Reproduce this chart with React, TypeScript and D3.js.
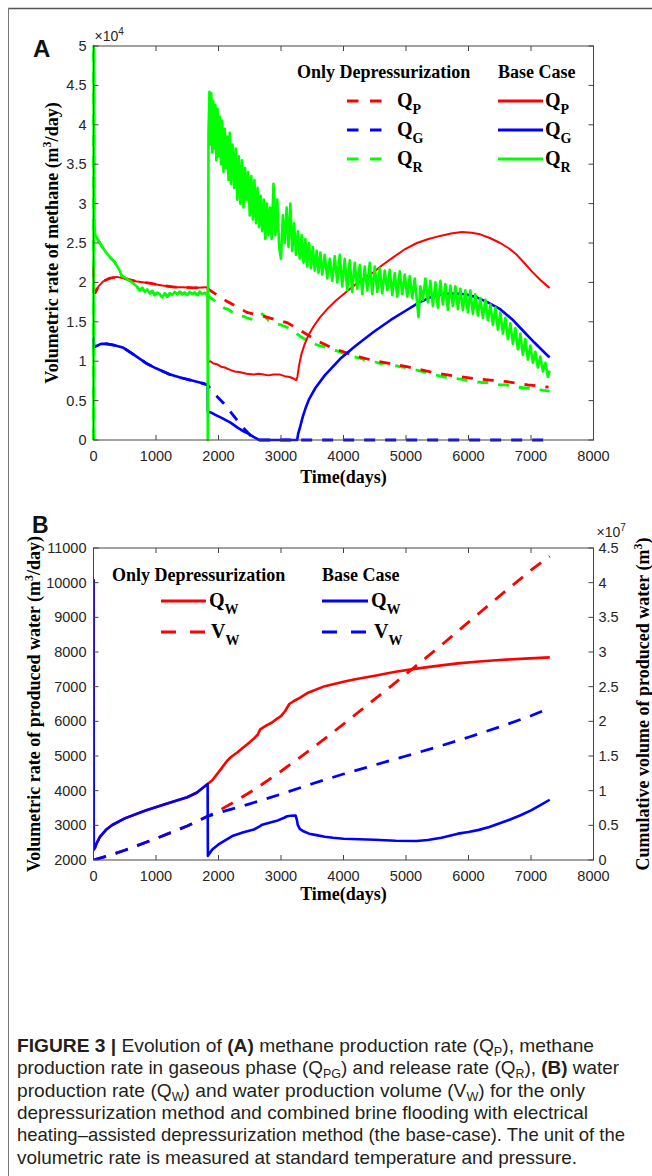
import React from "react";
import * as d3 from "d3";

type Pt = [number, number];

// ---------- shared ticks ----------
const xTicks = [0, 1000, 2000, 3000, 4000, 5000, 6000, 7000, 8000];
const yTicksA = [0, 0.5, 1, 1.5, 2, 2.5, 3, 3.5, 4, 4.5, 5];
const yTicksB = [2000, 3000, 4000, 5000, 6000, 7000, 8000, 9000, 10000, 11000];
const yTicksBRight = [0, 0.5, 1, 1.5, 2, 2.5, 3, 3.5, 4, 4.5];

// ---------- Panel A: methane rates (x10^4 m3/day) ----------
// first five years are common to both cases
const earlyQP: Pt[] = [
  [0, 2.2], [8, 1.88], [30, 1.87], [80, 1.95], [150, 2.01], [250, 2.05], [370, 2.07], [550, 2.04],
  [700, 2.01], [900, 1.99], [1100, 1.96], [1300, 1.94], [1430, 1.94], [1600, 1.93], [1800, 1.94], [1826, 1.93],
];
const baseQPTail: Pt[] = [
  [1830, 0.99], [1870, 1.0], [1920, 0.97], [1980, 0.96], [2040, 0.93], [2100, 0.92], [2187, 0.89],
  [2260, 0.87], [2350, 0.86], [2450, 0.84], [2560, 0.83], [2640, 0.84], [2720, 0.83], [2800, 0.82],
  [2880, 0.83], [2987, 0.83], [3060, 0.81], [3140, 0.8], [3200, 0.78], [3245, 0.76], [3262, 0.8],
  [3290, 0.95], [3330, 1.1], [3380, 1.22], [3440, 1.33], [3520, 1.44], [3627, 1.56], [3750, 1.67],
  [3880, 1.77], [4000, 1.85], [4120, 1.93], [4240, 2.0], [4360, 2.07], [4480, 2.13], [4640, 2.23],
  [4800, 2.32], [4980, 2.42], [5174, 2.5], [5360, 2.55], [5547, 2.59], [5720, 2.62], [5894, 2.64],
  [6050, 2.63], [6187, 2.61], [6350, 2.56], [6507, 2.5], [6650, 2.43], [6773, 2.35], [6900, 2.24],
  [7013, 2.14], [7150, 2.03], [7280, 1.94], [7300, 1.93],
];
const onlyQPTail: Pt[] = [
  [1850, 1.91], [1900, 1.88], [2000, 1.83], [2133, 1.76], [2300, 1.69], [2453, 1.62], [2600, 1.59],
  [2773, 1.56], [2900, 1.53], [3093, 1.49], [3250, 1.42], [3413, 1.34], [3600, 1.25], [3840, 1.16],
  [4000, 1.12], [4213, 1.06], [4480, 1.01], [4750, 0.97], [5013, 0.93], [5300, 0.88], [5547, 0.84],
  [5800, 0.81], [6080, 0.78], [6350, 0.76], [6613, 0.74], [6950, 0.7], [7280, 0.67],
];

const earlyQG: Pt[] = [
  [0, 1.3], [8, 1.18], [40, 1.19], [120, 1.22], [213, 1.22], [350, 1.2], [480, 1.17], [650, 1.08],
  [853, 0.97], [1000, 0.91], [1227, 0.83], [1400, 0.79], [1547, 0.76], [1700, 0.73], [1826, 0.7],
];
const baseQGTail: Pt[] = [
  [1830, 0.36], [1877, 0.35], [1950, 0.32], [2050, 0.28], [2192, 0.22], [2300, 0.16], [2400, 0.11],
  [2478, 0.08], [2560, 0.04], [2650, 0.0], [3258, 0.0], [3275, 0.08], [3307, 0.17], [3350, 0.3],
  [3400, 0.42], [3450, 0.52], [3550, 0.66], [3700, 0.82], [3947, 1.03], [4200, 1.2], [4480, 1.37],
  [4750, 1.52], [5013, 1.65], [5200, 1.74], [5387, 1.81], [5560, 1.85], [5760, 1.86], [5950, 1.85],
  [6133, 1.81], [6300, 1.75], [6507, 1.66], [6700, 1.53], [6880, 1.38], [7050, 1.24], [7280, 1.06],
  [7300, 1.05],
];
const onlyQGTail: Pt[] = [
  [1850, 0.67], [1900, 0.62], [1980, 0.55], [2077, 0.47], [2160, 0.39], [2249, 0.3], [2350, 0.2],
  [2449, 0.11], [2520, 0.05], [2580, 0.0], [7300, 0.0],
];

const earlyQR: Pt[] = [
  [0, 0], [3, 5], [12, 2.72], [30, 2.6], [100, 2.5], [200, 2.38], [344, 2.25], [420, 2.15], [450, 2.08],
  [520, 2.05], [600, 2.01], [690, 1.95], [740, 1.9], [780, 1.93], [820, 1.88], [860, 1.91], [900, 1.86],
  [940, 1.89], [980, 1.84], [1020, 1.87], [1060, 1.85], [1100, 1.81], [1140, 1.86], [1180, 1.82],
  [1220, 1.86], [1260, 1.84], [1300, 1.88], [1340, 1.85], [1380, 1.88], [1420, 1.85], [1460, 1.87],
  [1500, 1.84], [1540, 1.88], [1580, 1.85], [1620, 1.87], [1660, 1.84], [1700, 1.88], [1740, 1.85],
  [1780, 1.87], [1810, 1.84], [1826, 1.86],
];
const baseQRTail: Pt[] = [
  [1828, 0], [1840, 3.9], [1855, 4.42], [1870, 3.75], [1885, 4.4], [1900, 3.65], [1915, 4.3],
  [1930, 3.7], [1950, 4.25], [1965, 3.55], [1985, 4.2], [2000, 3.6], [2020, 4.1], [2040, 3.5],
  [2060, 4.05], [2080, 3.4], [2100, 3.95], [2120, 3.45], [2140, 3.85], [2160, 3.3], [2180, 3.9],
  [2200, 3.25], [2225, 3.75], [2250, 3.2], [2275, 3.7], [2300, 3.05], [2325, 3.6], [2350, 3.0],
  [2375, 3.55], [2400, 2.95], [2425, 3.45], [2450, 3.05], [2475, 3.4], [2500, 2.85], [2525, 3.35],
  [2550, 2.8], [2575, 3.3], [2600, 2.75], [2625, 3.2], [2650, 2.7], [2675, 3.1], [2700, 2.65],
  [2725, 3.05], [2750, 2.55], [2775, 3.0], [2800, 2.6], [2825, 2.95], [2850, 2.55], [2880, 3.25],
  [2910, 2.6], [2940, 3.05], [2970, 2.45], [3000, 2.3], [3030, 2.85], [3060, 2.5], [3090, 2.95],
  [3120, 2.45], [3150, 3.0], [3180, 2.4], [3210, 2.75], [3240, 2.35], [3270, 2.65], [3300, 2.3],
  [3330, 2.6], [3360, 2.25], [3390, 2.55], [3420, 2.2], [3450, 2.5], [3480, 2.18], [3510, 2.45],
  [3540, 2.15], [3570, 2.4], [3600, 2.12], [3630, 2.38], [3660, 2.1], [3700, 2.35], [3740, 2.05],
  [3780, 2.3], [3820, 2.02], [3860, 2.33], [3900, 2.0], [3940, 2.35], [3980, 1.95], [4020, 2.3],
  [4060, 1.9], [4100, 2.28], [4140, 1.88], [4180, 2.25], [4220, 1.92], [4260, 2.22], [4300, 1.85],
  [4340, 2.2], [4380, 1.9], [4420, 2.25], [4460, 1.85], [4500, 2.2], [4540, 1.88], [4580, 2.18],
  [4620, 1.86], [4660, 2.15], [4700, 1.9], [4740, 2.16], [4780, 1.84], [4820, 2.12], [4860, 1.82],
  [4900, 2.14], [4940, 1.85], [4980, 2.1], [5020, 1.82], [5060, 2.08], [5100, 1.8], [5140, 2.05],
  [5180, 1.72], [5200, 1.56], [5230, 1.95], [5270, 1.78], [5310, 2.05], [5350, 1.75], [5390, 2.02],
  [5430, 1.7], [5470, 2.0], [5510, 1.68], [5550, 2.02], [5590, 1.72], [5630, 1.98], [5670, 1.65],
  [5710, 1.96], [5750, 1.7], [5790, 1.95], [5830, 1.66], [5870, 1.92], [5910, 1.65], [5950, 1.9],
  [5990, 1.62], [6030, 1.9], [6070, 1.6], [6110, 1.85], [6150, 1.58], [6190, 1.8], [6230, 1.55],
  [6270, 1.78], [6310, 1.52], [6350, 1.72], [6390, 1.46], [6430, 1.68], [6470, 1.4], [6510, 1.62],
  [6550, 1.35], [6590, 1.55], [6630, 1.28], [6670, 1.48], [6710, 1.22], [6750, 1.42], [6790, 1.15],
  [6830, 1.35], [6870, 1.08], [6910, 1.28], [6950, 1.02], [6990, 1.2], [7030, 0.98], [7070, 1.12],
  [7110, 0.92], [7150, 1.06], [7190, 0.87], [7230, 0.98], [7270, 0.8], [7300, 0.88],
];
const onlyQRTail: Pt[] = [
  [1850, 1.82], [1900, 1.79], [1950, 1.76], [2000, 1.73], [2050, 1.7], [2100, 1.67], [2150, 1.66],
  [2200, 1.63], [2250, 1.61], [2300, 1.59], [2350, 1.57], [2400, 1.57], [2450, 1.55], [2500, 1.54],
  [2550, 1.53], [2600, 1.55], [2650, 1.58], [2700, 1.6], [2750, 1.56], [2800, 1.52], [2850, 1.51],
  [2900, 1.48], [2950, 1.47], [3000, 1.46], [3100, 1.43], [3200, 1.38], [3300, 1.32], [3400, 1.27],
  [3500, 1.23], [3600, 1.2], [3700, 1.18], [3800, 1.15], [3900, 1.13], [4000, 1.1], [4100, 1.06],
  [4200, 1.05], [4300, 1.03], [4400, 1.0], [4500, 0.99], [4600, 0.97], [4700, 0.98], [4800, 0.95],
  [4900, 0.93], [5000, 0.92], [5100, 0.9], [5200, 0.88], [5300, 0.86], [5400, 0.84], [5500, 0.82],
  [5600, 0.8], [5700, 0.79], [5800, 0.78], [5900, 0.77], [6000, 0.75], [6100, 0.74], [6200, 0.73],
  [6300, 0.73], [6400, 0.71], [6500, 0.7], [6600, 0.7], [6700, 0.68], [6800, 0.67], [6900, 0.66],
  [7000, 0.66], [7100, 0.64], [7200, 0.63], [7300, 0.62],
];

// ---------- Panel B: water rate (m3/day) and cumulative volume (x10^7 m3) ----------
const earlyQW: Pt[] = [
  [0, 10100], [4, 2300], [20, 2340], [50, 2480], [100, 2660], [200, 2870], [300, 3010], [500, 3200],
  [833, 3430], [1167, 3620], [1500, 3810], [1650, 3940], [1826, 4190],
];
const baseQWTail: Pt[] = [
  [1830, 2120], [1900, 2300], [2000, 2450], [2100, 2560], [2233, 2700], [2400, 2800], [2567, 2880],
  [2650, 2960], [2700, 3020], [2800, 3070], [2933, 3130], [3050, 3220], [3100, 3262], [3150, 3275],
  [3233, 3285], [3255, 3150], [3267, 3020], [3300, 2900], [3367, 2820], [3450, 2760], [3567, 2718],
  [3700, 2670], [3833, 2640], [4000, 2615], [4250, 2600], [4500, 2582], [4833, 2555], [5167, 2550],
  [5350, 2575], [5567, 2642], [5700, 2700], [5833, 2760], [6000, 2810], [6167, 2869], [6333, 2950],
  [6500, 3058], [6667, 3170], [6833, 3290], [7000, 3430], [7150, 3580], [7300, 3738],
];
const onlyQWTail: Pt[] = [
  [1900, 4300], [2033, 4608], [2133, 4850], [2200, 4970], [2300, 5100], [2367, 5200], [2500, 5400],
  [2567, 5506], [2630, 5620], [2667, 5770], [2767, 5883], [2850, 5960], [2933, 6072], [3000, 6150],
  [3067, 6298], [3133, 6500], [3200, 6580], [3300, 6675], [3433, 6826], [3700, 7015], [4000, 7140],
  [4167, 7204], [4500, 7317], [4833, 7430], [5167, 7521], [5500, 7600], [5833, 7672], [6167, 7725],
  [6500, 7770], [6900, 7810], [7300, 7845],
];
const earlyVW: Pt[] = [[0, 0], [250, 0.065], [500, 0.14], [1000, 0.31], [1500, 0.49], [1826, 0.63]];
const baseVWTail: Pt[] = [
  [2000, 0.68], [2500, 0.81], [3000, 0.95], [3500, 1.1], [4000, 1.24], [4500, 1.37], [5000, 1.5],
  [5500, 1.63], [6000, 1.77], [6500, 1.92], [7000, 2.08], [7300, 2.19],
];
const onlyVWTail: Pt[] = [
  [2000, 0.71], [2200, 0.81], [2600, 1.03], [3000, 1.28], [3500, 1.61], [4000, 1.96], [4500, 2.32],
  [5000, 2.68], [5500, 3.05], [6000, 3.43], [6500, 3.81], [7000, 4.18], [7300, 4.38],
];

// ---------- caption: runs of text; b = bold, s = subscript ----------
type Run = { t: string; b?: boolean; s?: boolean };
const captionLines: Run[][] = [
  [{ t: "FIGURE 3 | ", b: true }, { t: "Evolution of " }, { t: "(A)", b: true },
   { t: " methane production rate (Q" }, { t: "P", s: true }, { t: "), methane" }],
  [{ t: "production rate in gaseous phase (Q" }, { t: "PG", s: true }, { t: ") and release rate (Q" },
   { t: "R", s: true }, { t: "), " }, { t: "(B)", b: true }, { t: " water" }],
  [{ t: "production rate (Q" }, { t: "W", s: true }, { t: ") and water production volume (V" },
   { t: "W", s: true }, { t: ") for the only" }],
  [{ t: "depressurization method and combined brine flooding with electrical" }],
  [{ t: "heating\u2013assisted depressurization method (the base-case). The unit of the" }],
  [{ t: "volumetric rate is measured at standard temperature and pressure." }],
];
const captionWidths = [577, 602, 568, 571, 608, 560];

const RED = "#ff0000";
const BLUE = "#0000ff";
const GREEN = "#00ff00";
const AXIS = "#444";
const TICK_TEXT = "#262626";
const SANS = "'Liberation Sans', Arial, Helvetica, sans-serif";
const SERIF = "'Liberation Serif', 'Times New Roman', Times, serif";

const LEFT = 93.5;
const RIGHT = 593.5;

function Frame({ top, bottom, xs, ys, yTicks, rightTicks, ysR }: {
  top: number; bottom: number;
  xs: d3.ScaleLinear<number, number>;
  ys: d3.ScaleLinear<number, number>;
  yTicks: number[];
  rightTicks?: number[];
  ysR?: d3.ScaleLinear<number, number>;
}) {
  const tl = 5;
  return (
    <g>
      <rect x={LEFT} y={top} width={RIGHT - LEFT} height={bottom - top} fill="none" stroke={AXIS} strokeWidth={1} />
      {xTicks.map((t) => (
        <g key={"x" + t}>
          <line x1={xs(t)} x2={xs(t)} y1={bottom} y2={bottom - tl} stroke={AXIS} />
          <line x1={xs(t)} x2={xs(t)} y1={top} y2={top + tl} stroke={AXIS} />
          <text x={xs(t)} y={bottom + 21} textAnchor="middle" fontFamily={SANS} fontSize={14.5} fill={TICK_TEXT}>
            {String(t)}
          </text>
        </g>
      ))}
      {yTicks.map((t) => (
        <g key={"y" + t}>
          <line x1={LEFT} x2={LEFT + tl} y1={ys(t)} y2={ys(t)} stroke={AXIS} />
          {!rightTicks && <line x1={RIGHT} x2={RIGHT - tl} y1={ys(t)} y2={ys(t)} stroke={AXIS} />}
          <text x={LEFT - 7} y={ys(t) + 5} textAnchor="end" fontFamily={SANS} fontSize={14.5} fill={TICK_TEXT}>
            {String(t)}
          </text>
        </g>
      ))}
      {rightTicks && ysR &&
        rightTicks.map((t) => (
          <g key={"r" + t}>
            <line x1={RIGHT} x2={RIGHT - tl} y1={ysR(t)} y2={ysR(t)} stroke={AXIS} />
            <text x={RIGHT + 5} y={ysR(t) + 5} textAnchor="start" fontFamily={SANS} fontSize={14.5} fill={TICK_TEXT}>
              {String(t)}
            </text>
          </g>
        ))}
    </g>
  );
}

function Sym({ x, y, main, sub }: { x: number; y: number; main: string; sub: string }) {
  return (
    <text x={x} y={y} fontFamily={SERIF} fontWeight={700} fontSize={20} fill="#000">
      {main}
      <tspan fontSize={14} dy={7}>{sub}</tspan>
    </text>
  );
}

function CaptionLine({ runs, x, y, width }: { runs: Run[]; x: number; y: number; width: number }) {
  let shift = 0;
  return (
    <text x={x} y={y} textLength={width} lengthAdjust="spacingAndGlyphs">
      {runs.map((r, i) => {
        const target = r.s ? 4 : 0;
        const dy = target - shift;
        shift = target;
        return (
          <tspan key={i} dy={dy} fontWeight={r.b ? 700 : 400} fontSize={r.s ? 12.5 : 19}>
            {r.t}
          </tspan>
        );
      })}
    </text>
  );
}

export default function App() {
  // ----- panel A scales -----
  const topA = 46, botA = 440;
  const xA = d3.scaleLinear().domain([0, 8000]).range([LEFT, RIGHT]);
  const yA = d3.scaleLinear().domain([0, 5]).range([botA, topA]);
  const lineA = d3.line<Pt>().x((d) => xA(d[0])).y((d) => yA(d[1]));

  // ----- panel B scales -----
  const topB = 548, botB = 860;
  const xB = d3.scaleLinear().domain([0, 8000]).range([LEFT, RIGHT]);
  const yB = d3.scaleLinear().domain([2000, 11000]).range([botB, topB]);
  const yBR = d3.scaleLinear().domain([0, 4.5]).range([botB, topB]);
  const lineB = d3.line<Pt>().x((d) => xB(d[0])).y((d) => yB(d[1]));
  const lineBR = d3.line<Pt>().x((d) => xB(d[0])).y((d) => yBR(d[1]));

  const baseQP = [...earlyQP, ...baseQPTail];
  const onlyQP = [...earlyQP, ...onlyQPTail];
  const baseQG = [...earlyQG, ...baseQGTail];
  const onlyQG = [...earlyQG, ...onlyQGTail];
  const baseQR = [...earlyQR, ...baseQRTail];
  const onlyQR = [...earlyQR, ...onlyQRTail];

  const baseQW = [...earlyQW, ...baseQWTail];
  const onlyQW = [...earlyQW, ...onlyQWTail];
  const baseVW = [...earlyVW, ...baseVWTail];
  const onlyVW = [...earlyVW, ...onlyVWTail];

  const dashA = "11,10";
  const dashB = "13,10";

  const capY0 = 1052;
  const capDy = 22.3;
  const capX = 17;

  return (
    <svg width={652} height={1176} style={{ position: "absolute", left: 0, top: 0, background: "#fff" }}
      xmlns="http://www.w3.org/2000/svg">
      <defs>
        <clipPath id="plotB">
          <rect x={LEFT} y={topB} width={RIGHT - LEFT} height={botB - topB} />
        </clipPath>
      </defs>
      <rect x={0} y={0} width={652} height={1176} fill="#fff" />
      {/* outer figure border */}
      <line x1={8} x2={652} y1={8.5} y2={8.5} stroke="#555" strokeWidth={1.5} />
      <line x1={8.5} x2={8.5} y1={8} y2={1176} stroke="#777" strokeWidth={1} />

      {/* ================= Panel A ================= */}
      <text x={33} y={57} fontFamily={SANS} fontWeight={700} fontSize={24} fill="#111">A</text>
      <text x={LEFT + 1} y={topA - 5} fontFamily={SANS} fontSize={14} fill={TICK_TEXT}>
        ×10<tspan fontSize={10} dy={-6}>4</tspan>
      </text>

      <g fill="none" strokeLinejoin="round">
        <path d={lineA(onlyQR) || ""} stroke={GREEN} strokeWidth={2.8} strokeDasharray={dashA} />
        <path d={lineA(onlyQP) || ""} stroke={RED} strokeWidth={2.8} strokeDasharray={dashA} />
        <path d={lineA(onlyQG) || ""} stroke={BLUE} strokeWidth={2.8} strokeDasharray={dashA} />
        <path d={lineA(baseQP) || ""} stroke={RED} strokeWidth={2} />
        <path d={lineA(baseQG) || ""} stroke={BLUE} strokeWidth={2.6} />
        <path d={lineA(baseQR) || ""} stroke={GREEN} strokeWidth={2.6} />
      </g>

      <Frame top={topA} bottom={botA} xs={xA} ys={yA} yTicks={yTicksA} />

      <text x={(LEFT + RIGHT) / 2} y={botA + 43} textAnchor="middle" fontFamily={SERIF} fontWeight={700} fontSize={18}>
        Time(days)
      </text>
      <text transform={`translate(58, ${(topA + botA) / 2}) rotate(-90)`} textAnchor="middle"
        fontFamily={SERIF} fontWeight={700} fontSize={18}>
        Volumetric rate of methane (m<tspan fontSize={12} dy={-7}>3</tspan><tspan dy={7}>/day)</tspan>
      </text>

      {/* legend A */}
      <text x={297} y={78} fontFamily={SERIF} fontWeight={700} fontSize={18}>Only Depressurization</text>
      <text x={498} y={78} fontFamily={SERIF} fontWeight={700} fontSize={18}>Base Case</text>
      {[
        { c: RED, s: "P", y: 101 },
        { c: BLUE, s: "G", y: 130 },
        { c: GREEN, s: "R", y: 159 },
      ].map((r) => (
        <g key={r.s}>
          <line x1={347} x2={382} y1={r.y} y2={r.y} stroke={r.c} strokeWidth={3} strokeDasharray="11.5,11.5" />
          <Sym x={397} y={r.y + 6} main="Q" sub={r.s} />
          <line x1={498} x2={543} y1={r.y} y2={r.y} stroke={r.c} strokeWidth={3} />
          <Sym x={545} y={r.y + 6} main="Q" sub={r.s} />
        </g>
      ))}

      {/* ================= Panel B ================= */}
      <text x={32} y={533} fontFamily={SANS} fontWeight={700} fontSize={23} fill="#111">B</text>
      <text x={RIGHT + 3} y={topB - 11} fontFamily={SANS} fontSize={14} fill={TICK_TEXT}>
        ×10<tspan fontSize={10} dy={-6}>7</tspan>
      </text>

      <g fill="none" strokeLinejoin="round" clipPath="url(#plotB)">
        <path d={lineBR(onlyVW) || ""} stroke={RED} strokeWidth={2.8} strokeDasharray={dashB} />
        <path d={lineBR(baseVW) || ""} stroke={BLUE} strokeWidth={2.8} strokeDasharray={dashB} />
        <path d={lineB(onlyQW) || ""} stroke={RED} strokeWidth={2.6} />
        <path d={lineB(baseQW) || ""} stroke={BLUE} strokeWidth={2.6} />
      </g>

      <Frame top={topB} bottom={botB} xs={xB} ys={yB} yTicks={yTicksB} rightTicks={yTicksBRight} ysR={yBR} />

      <text x={(LEFT + RIGHT) / 2} y={botB + 40} textAnchor="middle" fontFamily={SERIF} fontWeight={700} fontSize={18}>
        Time(days)
      </text>
      <text transform={`translate(40, ${(topB + botB) / 2}) rotate(-90)`} textAnchor="middle"
        fontFamily={SERIF} fontWeight={700} fontSize={18}>
        Volumetric rate of produced water (m<tspan fontSize={12} dy={-7}>3</tspan><tspan dy={7}>/day)</tspan>
      </text>
      <text transform={`translate(649, ${(topB + botB) / 2}) rotate(-90)`} textAnchor="middle"
        fontFamily={SERIF} fontWeight={700} fontSize={18}>
        Cumulative volume of produced water (m<tspan fontSize={12} dy={-7}>3</tspan><tspan dy={7}>)</tspan>
      </text>

      {/* legend B */}
      <text x={112} y={581} fontFamily={SERIF} fontWeight={700} fontSize={18}>Only Depressurization</text>
      <text x={322} y={581} fontFamily={SERIF} fontWeight={700} fontSize={18}>Base Case</text>
      <line x1={161} x2={206} y1={601} y2={601} stroke={RED} strokeWidth={3} />
      <Sym x={209} y={607} main="Q" sub="W" />
      <line x1={322} x2={368} y1={601} y2={601} stroke={BLUE} strokeWidth={3} />
      <Sym x={371} y={607} main="Q" sub="W" />
      <line x1={161} x2={206} y1={632} y2={632} stroke={RED} strokeWidth={3} strokeDasharray="15,14" />
      <Sym x={211} y={638} main="V" sub="W" />
      <line x1={322} x2={368} y1={632} y2={632} stroke={BLUE} strokeWidth={3} strokeDasharray="15,14" />
      <Sym x={374} y={638} main="V" sub="W" />

      {/* ================= Caption ================= */}
      <g fontFamily={SANS} fill="#231f20">
        {captionLines.map((runs, i) => (
          <CaptionLine key={i} runs={runs} x={capX} y={capY0 + capDy * i} width={captionWidths[i]} />
        ))}
      </g>
    </svg>
  );
}
